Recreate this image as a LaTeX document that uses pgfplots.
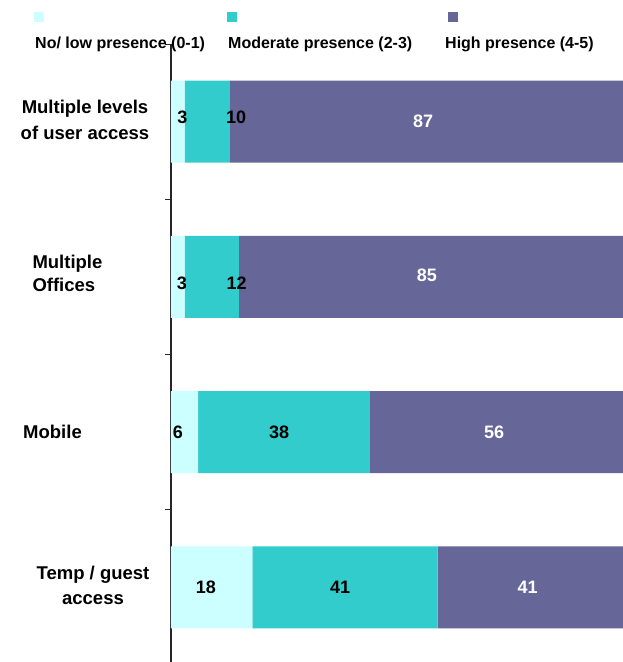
\documentclass[border=0pt]{standalone}
\usepackage{fontspec}
\setmainfont{Liberation Sans}
\usepackage{pgfplots}
\pgfplotsset{compat=1.18}
\definecolor{lowc}{HTML}{CCFFFF}
\definecolor{modc}{HTML}{33CCCC}
\definecolor{highc}{HTML}{666699}
\begin{document}
\begin{tikzpicture}
\pgfplotsset{common/.style={
  width=452pt, height=621pt, scale only axis,
  xmin=0, xmax=100, ymin=-0.5, ymax=3.5, y dir=reverse,
}}
\begin{axis}[common,
  xbar stacked, bar width=82pt,
  axis x line=none, axis y line*=left,
  ytick={-0.5,0.5,1.5,2.5,3.5}, yticklabel=\empty,
  tick align=outside, major tick length=6pt,
  y axis line style={line width=1.3pt, black!85, -},
  ytick style={line width=1pt, black!85},
  clip=false,
]
\addplot[fill=lowc, draw=none] coordinates {(3,0) (3,1) (6,2) (18,3)};
\addplot[fill=modc, draw=none] coordinates {(10,0) (12,1) (38,2) (41,3)};
\addplot[fill=highc, draw=none] coordinates {(87,0) (85,1) (56,2) (41,3)};
\node[align=center, font=\bfseries\fontsize{18.5}{26}\selectfont] at ([xshift=-86pt]axis cs:0,-0.01) {Multiple levels\\of user access};
\node[align=left, anchor=west, font=\bfseries\fontsize{18.5}{23}\selectfont] at ([xshift=-142pt]axis cs:0,0.98) {Multiple\\Offices};
\node[align=center, font=\bfseries\fontsize{18.5}{26}\selectfont] at ([xshift=-118.5pt]axis cs:0,2) {Mobile};
\node[align=center, font=\bfseries\fontsize{18.5}{25}\selectfont] at ([xshift=-78pt]axis cs:0,2.985) {Temp / guest\\access};
\end{axis}
\begin{axis}[common, hide axis, clip=false]
\addplot[only marks, mark=none, nodes near coords, point meta=explicit symbolic,
  every node near coord/.append style={anchor=center, text=black, font=\bfseries\fontsize{18}{20}\selectfont}]
  coordinates {(2.5,-0.03)[3] (14.4,-0.03)[10] (2.4,1.04)[3] (14.5,1.04)[12] (1.5,2)[6] (23.9,2)[38] (7.7,3)[18] (37.4,3)[41]};
\addplot[only marks, mark=none, nodes near coords, point meta=explicit symbolic,
  every node near coord/.append style={anchor=center, text=white, font=\bfseries\fontsize{18}{20}\selectfont}]
  coordinates {(55.8,0)[87] (56.6,0.99)[85] (71.5,2)[56] (78.9,3)[41]};
\end{axis}
\coordinate (O) at ([shift={(-171pt,665pt)}]current axis.south west);
\fill[lowc] ([shift={(34pt,-12pt)}]O) rectangle ++(10pt,-10pt);
\fill[modc] ([shift={(227pt,-12pt)}]O) rectangle ++(10pt,-10pt);
\fill[highc] ([shift={(448pt,-12pt)}]O) rectangle ++(10pt,-10pt);
\node[anchor=base west, inner sep=0pt, font=\bfseries\fontsize{16}{18}\selectfont] at ([shift={(35pt,-49pt)}]O) {No/ low presence (0-1)};
\node[anchor=base west, inner sep=0pt, font=\bfseries\fontsize{16}{18}\selectfont] at ([shift={(228pt,-49pt)}]O) {Moderate presence (2-3)};
\node[anchor=base west, inner sep=0pt, font=\bfseries\fontsize{16}{18}\selectfont] at ([shift={(445pt,-49pt)}]O) {High presence (4-5)};
\pgfresetboundingbox
\path[use as bounding box] (O) rectangle ([shift={(623pt,-662pt)}]O);
\end{tikzpicture}
\end{document}
